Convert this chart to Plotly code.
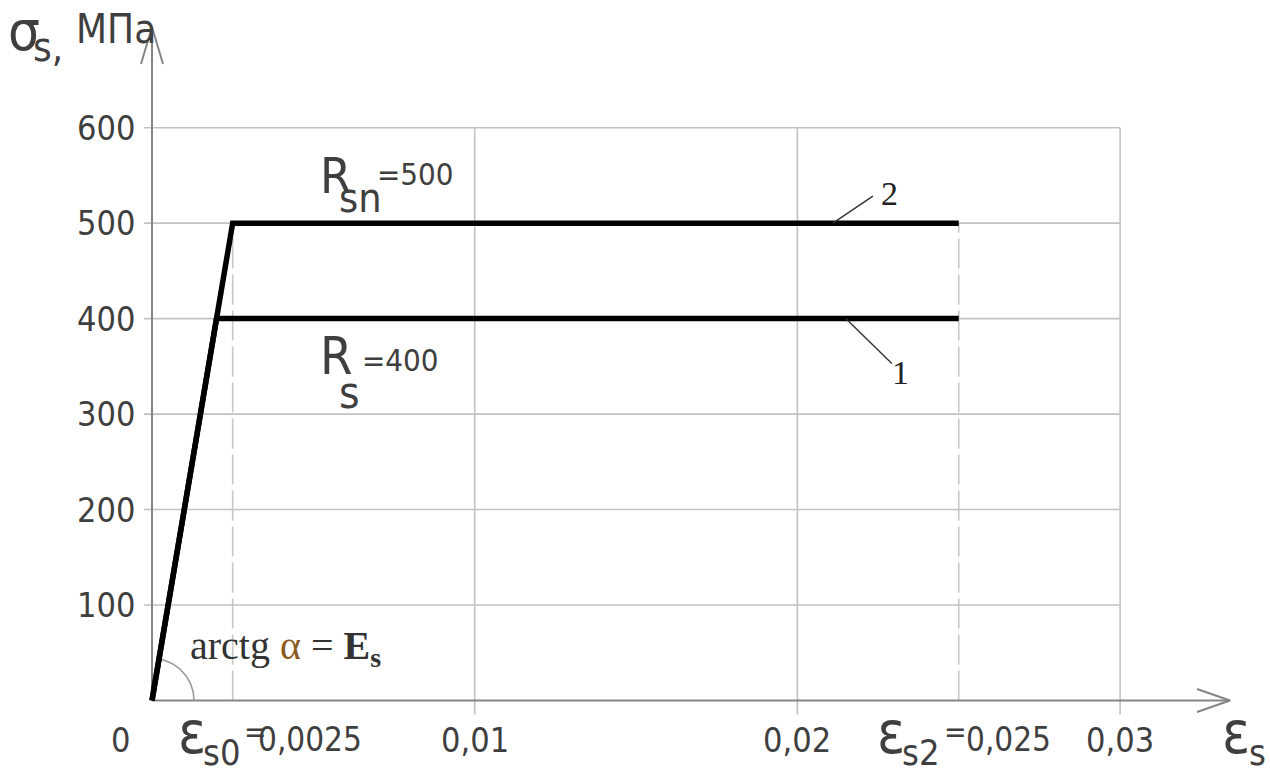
import numpy as np
import plotly.graph_objects as go

# --- steel stress-strain diagram data -------------------------------------
RS = 400            # design resistance R_s, MPa (curve 1)
RSN = 500           # normative resistance R_sn, MPa (curve 2)
EPS_S0 = 0.0025     # strain at the end of the elastic branch (curve 2)
EPS_S2 = 0.025      # limiting strain
ES = RSN / EPS_S0   # elastic modulus, MPa

y_ticks = [100, 200, 300, 400, 500, 600]
y_tick_text = ["100", "200", "300", "400", "500", "600"]
x_grid = [0.01, 0.02, 0.03]
x_ticks = [0, 0.01, 0.02, 0.03]
x_tick_text = ["0", "0,01", "0,02", "0,03"]
curve_numbers = ["1", "2"]

# --- canvas / scale ---------------------------------------------------------
W, H = 1270, 769
X0_PX, X_SCALE = 152.0, 32270.0    # pixel of strain 0, pixels per unit strain
Y0_PX, Y_SCALE = 700.5, 0.9547     # pixel of stress 0, pixels per MPa
x_range = [-X0_PX / X_SCALE, (W - X0_PX) / X_SCALE]
y_range = [(Y0_PX - H) / Y_SCALE, Y0_PX / Y_SCALE]
X_MAX, Y_MAX = x_grid[-1], y_ticks[-1]

GRID = "#c2c2c2"
AXIS = "#858585"
TXT = "#3f3f3f"
GOST = "Liberation Sans Narrow, DejaVu Sans Condensed, Roboto Condensed, sans-serif"
SERIF = "Liberation Serif, Times New Roman, serif"


def dx(px):
    return px / X_SCALE


def dy(px):
    return px / Y_SCALE


def seg_trace(xs, ys, color, width, dash="solid"):
    return go.Scatter(x=xs, y=ys, mode="lines", hoverinfo="skip", showlegend=False,
                      line=dict(color=color, width=width, dash=dash))


fig = go.Figure()

# grid: horizontal lines with short stubs left of the ordinate
gx, gy = [], []
for v in y_ticks:
    gx += [-dx(8), X_MAX, None]
    gy += [v, v, None]
fig.add_trace(seg_trace(gx, gy, GRID, 1.6))

# grid: vertical lines with stubs below the abscissa
gx, gy = [], []
for v in x_grid:
    gx += [v, v, None]
    gy += [-dy(14), Y_MAX, None]
fig.add_trace(seg_trace(gx, gy, GRID, 1.6))

# dashed projections of the characteristic strains
fig.add_trace(seg_trace([EPS_S0, EPS_S0, None, EPS_S2, EPS_S2],
                        [0, RSN, None, 0, RSN], "#c8c8c8", 1.6, "30px,6px"))

# axes with open arrow heads
x_tip, y_tip = dx(1230 - X0_PX), dy(Y0_PX - 27)
fig.add_trace(seg_trace([0, x_tip], [0, 0], AXIS, 2))
fig.add_trace(seg_trace([0, 0], [0, y_tip], AXIS, 2))
fig.add_trace(seg_trace([x_tip - dx(33), x_tip, x_tip - dx(33)],
                        [dy(11.5), 0, -dy(11.5)], AXIS, 2))
fig.add_trace(seg_trace([-dx(11), 0, dx(11)],
                        [y_tip - dy(37), y_tip, y_tip - dy(37)], AXIS, 2))

# angle arc at the origin
theta = np.arctan2(RSN * Y_SCALE, EPS_S0 * X_SCALE)
t = np.linspace(0, theta, 40)
r = 42
fig.add_trace(seg_trace(dx(r * np.cos(t)), dy(r * np.sin(t)), "#9a9a9a", 1.6))

# bilinear diagrams: 1 - design (R_s), 2 - normative (R_sn)
fig.add_trace(seg_trace([0, RS / ES, EPS_S2], [0, RS, RS], "black", 5.5))
fig.add_trace(seg_trace([0, EPS_S0, EPS_S2], [0, RSN, RSN], "black", 5.5))

# leader lines to the curve numbers
x_l2, x_l1 = 0.0211, 0.0215
fig.add_trace(seg_trace([x_l2, x_l2 + dx(40)], [RSN, RSN + dy(27)], "#333333", 1.4))
fig.add_trace(seg_trace([x_l1, x_l1 + dx(46)], [RS, RS - dy(45)], "#333333", 1.4))

ann = []


def put(px, py, text, size, family=GOST, color=TXT, xanchor="left", yanchor="middle"):
    ann.append(dict(x=px / W, y=1 - py / H, xref="paper", yref="paper", text=text,
                    showarrow=False, xanchor=xanchor, yanchor=yanchor,
                    font=dict(size=size, family=family, color=color)))


# ordinate tick labels
for v, s in zip(y_ticks, y_tick_text):
    ann.append(dict(x=-dx(15), y=v, xref="x", yref="y", text=s, showarrow=False,
                    xanchor="right", yanchor="middle",
                    font=dict(size=34, family=GOST, color=TXT)))

# abscissa tick labels
for v, s in zip(x_ticks, x_tick_text):
    ann.append(dict(x=v, y=-dy(740 - Y0_PX), xref="x", yref="y", text=s, showarrow=False,
                    xanchor="center", yanchor="middle", xshift=-32 if v == 0 else 0,
                    font=dict(size=34, family=GOST, color=TXT)))

# characteristic strains on the abscissa
put(176, H, "ε", 58, yanchor="bottom")
put(201, 752, "s0", 36)
put(242, 731, "=", 30)
put(256, 739, "0,0025", 33)

put(875, H, "ε", 58, yanchor="bottom")
put(900, 752, "s2", 36)
put(942, 731, "=", 30)
put(964, 739, "0,025", 33)

# axis names
put(1220, H, "ε", 58, yanchor="bottom")
put(1247, 752, "s", 36)
put(6, 30, "σ", 56)
put(31, 47, "s,", 40)
put(74, 29, "МПа", 40)

# strength labels
put(318, 176, "R", 50)
put(337, 198, "sn", 41)
put(375, 174, "=500", 31)

put(318, 356, "R", 52)
put(337, 392, "s", 44)
put(360, 360, "=400", 31)

# curve numbers and modulus note
put(889, 194, curve_numbers[1], 34, SERIF, "#222222", "center")
put(900, 372, curve_numbers[0], 34, SERIF, "#222222", "center")
put(188, 648, "arctg <span style='color:#8a5a1e'>α</span> = <b>E<sub>s</sub></b>",
    40, SERIF, "#333333")

fig.update_layout(
    width=W, height=H, margin=dict(l=0, r=0, t=0, b=0),
    paper_bgcolor="white", plot_bgcolor="white",
    xaxis=dict(range=x_range, visible=False, fixedrange=True),
    yaxis=dict(range=y_range, visible=False, fixedrange=True),
    annotations=ann, showlegend=False,
)

fig.write_html("out.html")
